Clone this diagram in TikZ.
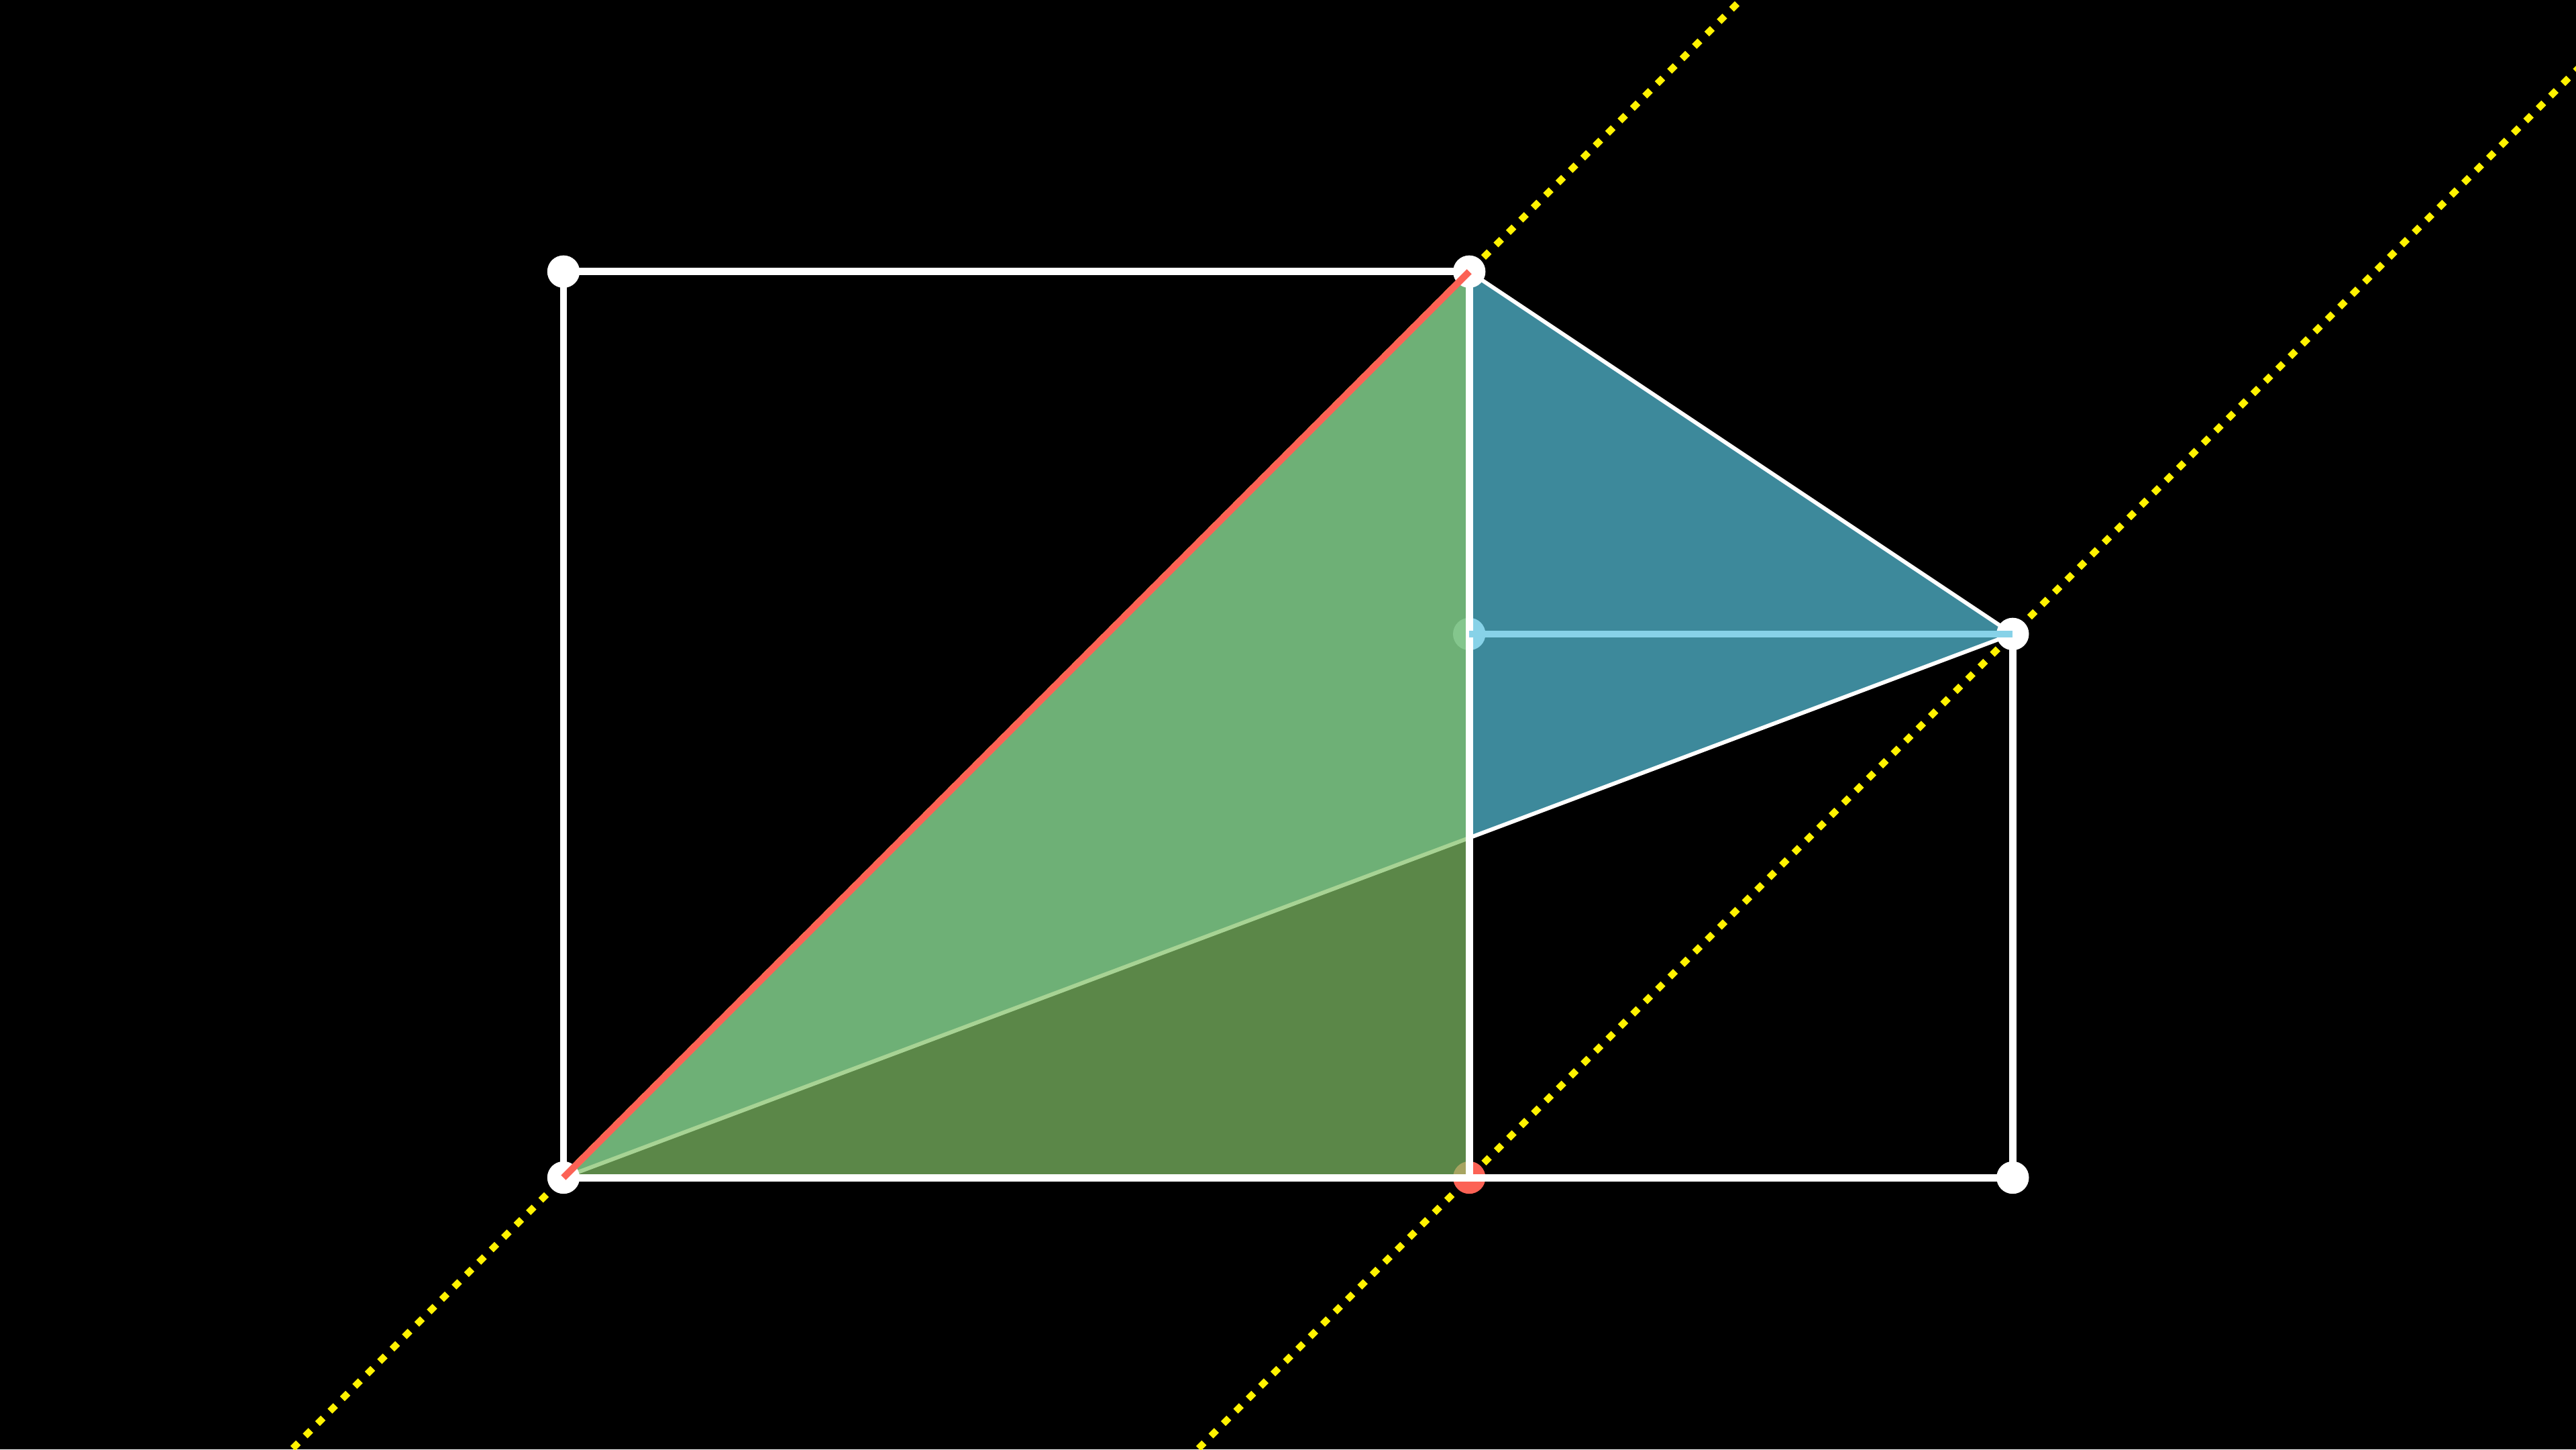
\documentclass[tikz,border=0pt]{standalone}
\definecolor{sqgreen}{HTML}{83C167}
\definecolor{sqblue}{HTML}{58C4DD}
\definecolor{sqred}{HTML}{FC6255}
\definecolor{sqlight}{RGB}{135,210,232}
\begin{document}
\begin{tikzpicture}[scale=1.125,
    edge/.style={draw=white, line width=1.3pt},
    guide/.style={draw=yellow, line width=1.2pt, dash pattern=on 1.4pt off 1.7pt},
    pt/.style={radius=2.55pt}]
        % Background
        \fill[black] (-3.1111,-1.5) rectangle (11.1111,6.5);
        \clip (-3.1111,-1.5) rectangle (11.1111,6.5);

        % Points
        \coordinate (A) at (0,0);
        \coordinate (B) at (5,0);
        \coordinate (C) at (5,5);
        \coordinate (D) at (0,5);
        \coordinate (E) at (8,3);
        \coordinate (F) at (8,0);
        \coordinate (M) at (5,3);
        \coordinate (g1a) at (-1.7,-1.7);
        \coordinate (g1b) at (6.7,6.7);
        \coordinate (g2a) at (3.3,-1.7);
        \coordinate (g2b) at (11.7,6.7);

        % Dotted guides
        \draw[guide] (g1a) -- (g1b);
        \draw[guide] (g2a) -- (g2b);

        % Red point
        \fill[sqred] (B) circle[pt];

        % Blue triangle
        \filldraw[fill=sqblue, fill opacity=0.7, draw=white, line width=0.7pt] (A) -- (C) -- (E) -- cycle;
        \fill[sqlight] (M) circle[pt];

        % Green triangle
        \fill[sqgreen, fill opacity=0.7] (A) -- (C) -- (B) -- cycle;

        % Squares
        \draw[edge] (A) rectangle (C);
        \draw[edge] (B) -- (F) -- (E);

        % Corners
        \foreach \p in {A,C,D,E,F}
          \fill[white] (\p) circle[pt];

        % Coloured sides
        \draw[sqlight, line width=1.2pt] (M) -- (E);
        \draw[sqred, line width=1.2pt] (A) -- (C);
      \end{tikzpicture}
\end{document}
